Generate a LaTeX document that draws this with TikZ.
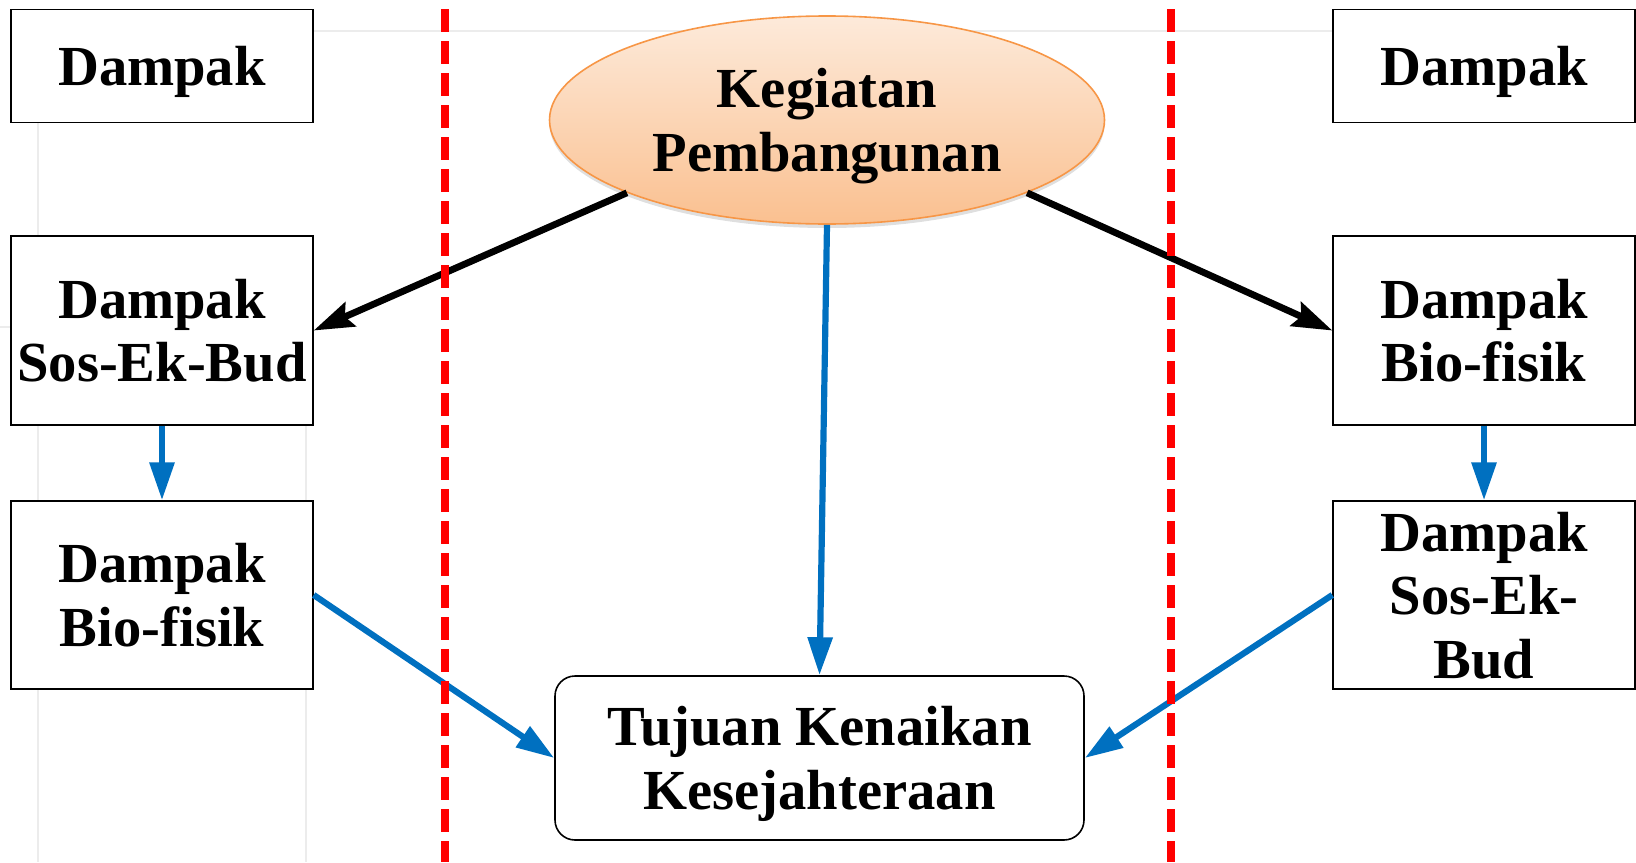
\documentclass[tikz,border=0pt]{standalone}
\usepackage{fontspec}
\setmainfont{Liberation Serif}
\usetikzlibrary{shapes.geometric,arrows.meta,shadows}
\definecolor{biru}{HTML}{0070C0}
\definecolor{garisoranye}{HTML}{F79646}
\definecolor{oranyeatas}{HTML}{FDEADA}
\definecolor{oranyebawah}{HTML}{FAC090}

\begin{document}
\begin{tikzpicture}[x=0.5pt,y=-0.5pt,
    teks/.style={font=\fontsize{28.3}{31.7}\selectfont\bfseries,align=center,text depth=0pt},
    kotak/.style={teks,draw,fill=white,line width=0.7pt,inner sep=0pt,minimum width=151pt},
    panahhitam/.style={line width=3.4pt,-{Stealth[length=20pt,width=13pt,inset=3pt]}},
    panahbiru/.style={biru,line width=3.1pt,-{Triangle[length=19pt,width=12pt]}},
    batas/.style={red,line width=4pt,dash pattern=on 11.5pt off 4.5pt}]
      \useasboundingbox (0,0) rectangle (1636,862);
      \draw[gray!15,line width=1pt] (313,31)--(1333,31);
      \draw[gray!15,line width=1pt] (38,122)--(38,862);
      \draw[gray!15,line width=1pt] (306,425)--(306,862);
      \draw[gray!15,line width=1pt] (0,327)--(11,327);

      \node[kotak,minimum height=56.5pt] (dampakL) at (162,66) {Dampak};
      \node[kotak,minimum height=94.5pt] (sosL) at (162,330.5) {Dampak\\Sos-Ek-Bud};
      \node[kotak,minimum height=94pt] (bioL) at (162,595) {Dampak\\Bio-fisik};

      \node[kotak,minimum height=56.5pt] (dampakR) at (1484,66) {Dampak};
      \node[kotak,minimum height=94.5pt] (bioR) at (1484,330.5) {Dampak\\Bio-fisik};
      \node[kotak,minimum height=94pt] (sosR) at (1484,595) {Dampak\\Sos-Ek-\\Bud};

      \node[teks,ellipse,draw=garisoranye,line width=0.8pt,top color=oranyeatas,bottom color=oranyebawah,
        drop shadow={opacity=0.25,shadow xshift=0pt,shadow yshift=-2pt},
        minimum width=277.5pt,minimum height=104pt,inner sep=0pt] (kegiatan) at (827,120) {Kegiatan\\Pembangunan};
      \node[teks,draw,fill=white,line width=0.8pt,rounded corners=10pt,
        minimum width=264.5pt,minimum height=82pt] (tujuan) at (819.5,758) {Tujuan Kenaikan\\Kesejahteraan};

      \draw[panahhitam] (kegiatan.200)--(sosL.east);
      \draw[panahhitam] (kegiatan.340)--(bioR.west);
      \draw[panahbiru] (kegiatan.south)--(tujuan.north);
      \draw[panahbiru] (sosL.south)--(bioL.north);
      \draw[panahbiru] (bioR.south)--(sosR.north);
      \draw[panahbiru] (bioL.east)--(tujuan.west);
      \draw[panahbiru] (sosR.west)--(tujuan.east);

      \draw[batas] (444.5,9)--(444.5,862);
      \draw[batas] (1170.7,9)--(1170.7,862);
    \end{tikzpicture}
\end{document}
